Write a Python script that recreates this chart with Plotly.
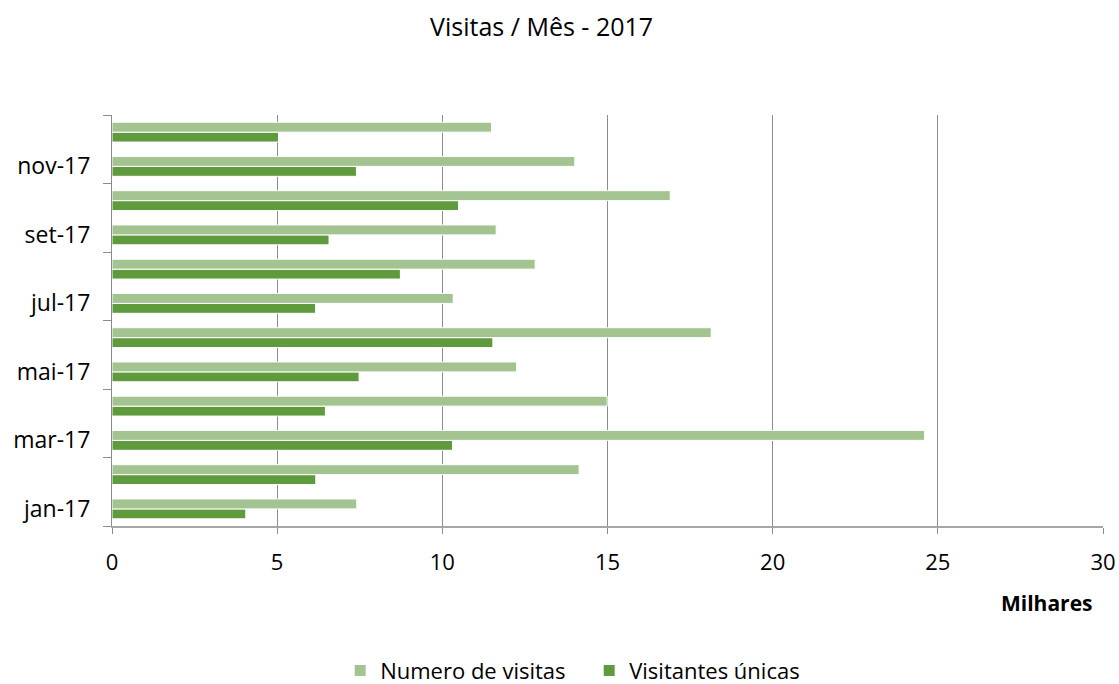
import plotly.graph_objects as go

months = ["jan-17", "fev-17", "mar-17", "abr-17", "mai-17", "jun-17",
          "jul-17", "ago-17", "set-17", "out-17", "nov-17", "dez-17"]
numero_visitas = [7.41, 14.14, 24.6, 14.99, 12.25, 18.14, 10.33, 12.81, 11.63, 16.9, 14.01, 11.49]
visitantes_unicas = [4.05, 6.17, 10.31, 6.46, 7.48, 11.53, 6.16, 8.73, 6.57, 10.49, 7.40, 5.04]
x_ticks = [0, 5, 10, 15, 20, 25, 30]

ypos = list(range(len(months)))
label_idx = ypos[::2]

fig = go.Figure()
fig.add_trace(go.Bar(y=ypos, x=visitantes_unicas, orientation="h", name="Visitantes únicas",
                     marker=dict(color="#5F9A3C", line=dict(color="white", width=1))))
fig.add_trace(go.Bar(y=ypos, x=numero_visitas, orientation="h", name="Numero de visitas",
                     marker=dict(color="#A3C490", line=dict(color="white", width=1))))

fig.update_layout(
    width=1119, height=684,
    margin=dict(l=112, r=16, t=115, b=158, autoexpand=False),
    plot_bgcolor="white", paper_bgcolor="white",
    barmode="group", bargap=0.42, bargroupgap=0.0,
    font=dict(family="Open Sans, sans-serif", size=22, color="#000000"),
    title=dict(text="Visitas / Mês - 2017", x=0.484, xanchor="center", y=0.9605, yanchor="middle",
               yref="container", font=dict(size=25)),
    legend=dict(orientation="h", x=0.304, xanchor="left", xref="container",
                y=0.0195, yanchor="middle", yref="container", traceorder="reversed",
                font=dict(size=22), entrywidth=204, entrywidthmode="pixels"),
    xaxis=dict(range=[0, 30], tickvals=x_ticks, showgrid=True, gridcolor="#8C8C8C", gridwidth=1,
               showline=True, linecolor="#A6A6A6", linewidth=2, ticks="outside", ticklen=6,
               tickcolor="#8C8C8C", zeroline=False, tickfont=dict(size=22), automargin=False,
               ticklabelstandoff=10),
    yaxis=dict(range=[-0.5, 11.5], tickvals=label_idx, ticktext=[months[i] for i in label_idx],
               showgrid=False, showline=True, linecolor="#8C8C8C", linewidth=1, ticks="",
               zeroline=False, tickfont=dict(size=23), ticklabelstandoff=16, automargin=False,
               minor=dict(tickvals=[i - 0.5 for i in range(0, 13, 2)], ticks="outside",
                          ticklen=8, tickcolor="#8C8C8C", showgrid=False)),
)
fig.add_annotation(text="<b>Milhares</b>", xref="paper", yref="paper", x=0.992, y=-0.187,
                   xanchor="right", yanchor="middle", showarrow=False, font=dict(size=21))

fig.write_html("out.html", config={"displayModeBar": False},
               post_script="document.body.style.margin='0';document.body.style.overflow='hidden';")
